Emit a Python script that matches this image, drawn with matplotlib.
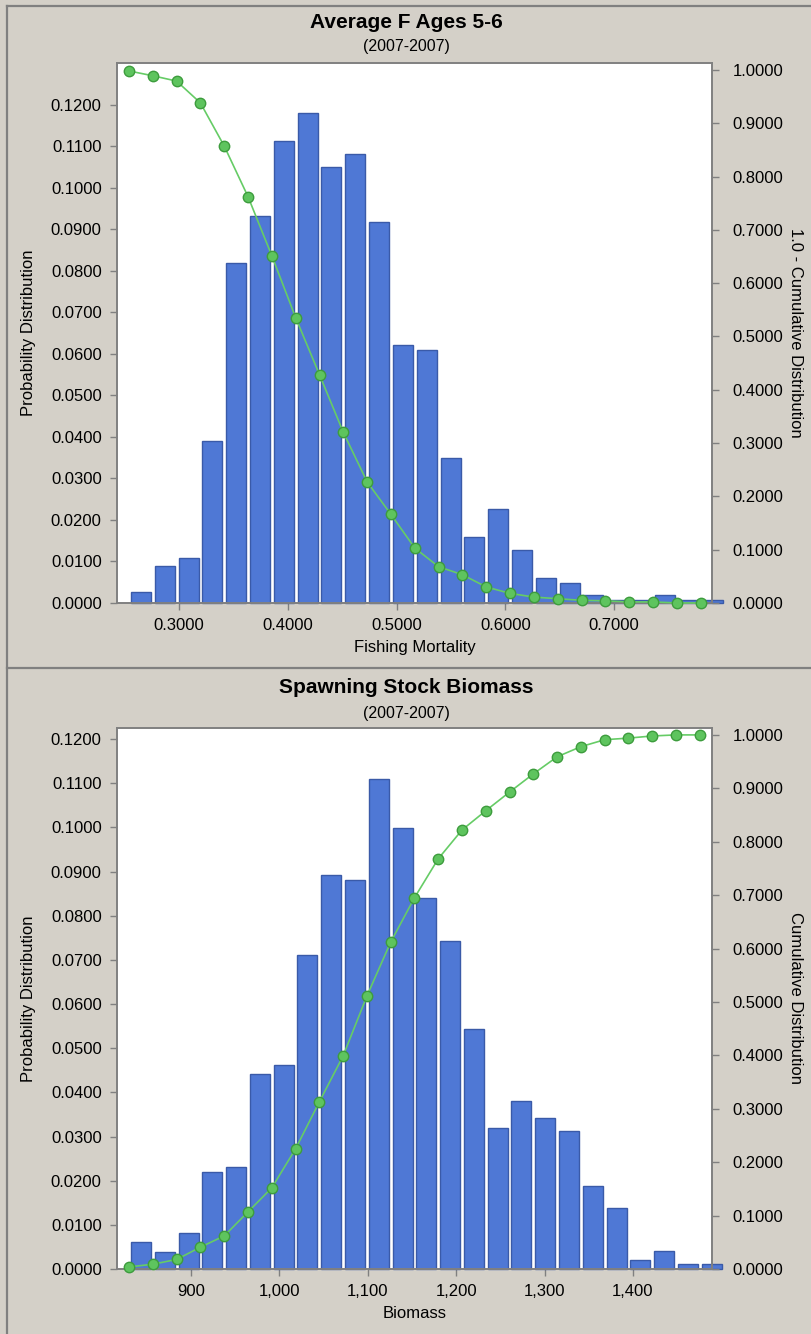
import matplotlib
matplotlib.use("Agg")
import numpy as np
from matplotlib import pyplot as plt
from matplotlib.lines import Line2D
from matplotlib.ticker import FuncFormatter, MultipleLocator

plt.rcParams['font.family'] = ['Liberation Sans', 'DejaVu Sans']

# --- Average F Ages 5-6 ---
f_bin_left = [0.2540, 0.2759, 0.2978, 0.3197, 0.3416, 0.3635, 0.3854, 0.4073, 0.4292,
              0.4511, 0.4730, 0.4949, 0.5168, 0.5387, 0.5606, 0.5825, 0.6044, 0.6263,
              0.6482, 0.6701, 0.6920, 0.7139, 0.7358, 0.7577, 0.7796]
f_bin_width = 0.0219
f_prob = [0.0027, 0.0089, 0.0109, 0.0391, 0.0819, 0.0933, 0.1112, 0.1181, 0.1050,
          0.1082, 0.0919, 0.0622, 0.0609, 0.0350, 0.0158, 0.0227, 0.0128, 0.0059,
          0.0047, 0.0019, 0.0008, 0.0008, 0.0019, 0.0008, 0.0008]
f_cum = [0.998, 0.989, 0.979, 0.938, 0.857, 0.762, 0.651, 0.535, 0.428, 0.320,
         0.227, 0.166, 0.103, 0.068, 0.053, 0.030, 0.018, 0.011, 0.008, 0.005,
         0.004, 0.002, 0.002, 0.000, 0.000]

# --- Spawning Stock Biomass ---
b_bin_left = [830.0, 856.9, 883.8, 910.7, 937.6, 964.5, 991.4, 1018.3, 1045.2,
              1072.1, 1099.0, 1125.9, 1152.8, 1179.7, 1206.6, 1233.5, 1260.4, 1287.3,
              1314.2, 1341.1, 1368.0, 1394.9, 1421.8, 1448.7, 1475.6]
b_bin_width = 26.9
b_prob = [0.0062, 0.0039, 0.0081, 0.0219, 0.0230, 0.0442, 0.0462, 0.0711, 0.0892,
          0.0880, 0.1110, 0.0999, 0.0840, 0.0743, 0.0543, 0.0319, 0.0381, 0.0342,
          0.0312, 0.0188, 0.0139, 0.0020, 0.0040, 0.0012, 0.0012]
b_cum = [0.004, 0.009, 0.018, 0.041, 0.062, 0.107, 0.152, 0.225, 0.313, 0.399,
         0.511, 0.612, 0.695, 0.768, 0.822, 0.858, 0.893, 0.927, 0.959, 0.978,
         0.991, 0.994, 0.998, 1.000, 1.000]

BG = '#d4d0c8'
GRAY = '#808080'
BAR_FACE = '#4f78d5'
BAR_EDGE = '#3a5aa8'
PT_FACE = '#5ec45e'
PT_EDGE = '#3d9c3d'
LINE = '#66cc66'
FS = 12
fmt4 = FuncFormatter(lambda v, p: f"{v:.4f}")


def style_axis(ax, pad):
    for s in ax.spines.values():
        s.set_color(GRAY)
        s.set_linewidth(1.2)
    ax.tick_params(axis='y', colors=GRAY, labelcolor='black', labelsize=FS,
                   length=5, width=1, pad=pad)
    ax.tick_params(axis='x', colors=GRAY, labelcolor='black', labelsize=FS,
                   length=5, width=1, pad=6)


def draw_panel(fig, rect, bin_left, bw, prob, cum, xlim, ylim, xticks, xfmt,
               xlabel, rlabel):
    ax = fig.add_axes(rect)
    left = np.array(bin_left)
    ax.bar(left + bw / 2, prob, width=bw * 0.84, color=BAR_FACE,
           edgecolor=BAR_EDGE, linewidth=1, clip_on=False, zorder=2)
    ax.set_xlim(*xlim)
    ax.set_ylim(0, ylim)
    ax.set_yticks(np.arange(0, 0.1205, 0.01))
    ax.yaxis.set_major_formatter(fmt4)
    ax.set_xticks(xticks)
    ax.xaxis.set_major_formatter(FuncFormatter(xfmt))
    ax.set_xlabel(xlabel, fontsize=FS, labelpad=5)
    ax.set_ylabel('Probability Distribution', fontsize=FS, labelpad=11)
    style_axis(ax, 6)

    ax2 = ax.twinx()
    ax2.plot(left, cum, '-', color=LINE, linewidth=1.2, marker='o',
             markersize=7.5, markerfacecolor=PT_FACE, markeredgecolor=PT_EDGE,
             markeredgewidth=1, clip_on=False, zorder=3)
    ax2.set_ylim(0, 1.013)
    ax2.yaxis.set_major_locator(MultipleLocator(0.1))
    ax2.yaxis.set_major_formatter(fmt4)
    ax2.set_ylabel(rlabel, fontsize=FS, rotation=-90, labelpad=14)
    style_axis(ax2, 10)
    return ax, ax2


fig = plt.figure(figsize=(8.12, 13.34), dpi=100)
fig.patch.set_facecolor(BG)

draw_panel(fig, [0.1441, 0.5480, 0.7327, 0.4048], f_bin_left, f_bin_width,
           f_prob, f_cum, (0.243, 0.790), 0.1301,
           [0.3, 0.4, 0.5, 0.6, 0.7], lambda v, p: f"{v:.4f}",
           'Fishing Mortality', '1.0 - Cumulative Distribution')

draw_panel(fig, [0.1441, 0.0487, 0.7327, 0.4056], b_bin_left, b_bin_width,
           b_prob, b_cum, (816.3, 1489.4), 0.1225,
           [900, 1000, 1100, 1200, 1300, 1400], lambda v, p: f"{v:,.0f}",
           'Biomass', 'Cumulative Distribution')

fig.text(0.5, 0.9835, 'Average F Ages 5-6', ha='center', va='center',
         fontsize=15, fontweight='bold')
fig.text(0.5, 0.9650, '(2007-2007)', ha='center', va='center', fontsize=11.5)
fig.text(0.5, 0.4850, 'Spawning Stock Biomass', ha='center', va='center',
         fontsize=15, fontweight='bold')
fig.text(0.5, 0.4650, '(2007-2007)', ha='center', va='center', fontsize=11.5)

# panel frame lines
fig.add_artist(Line2D([0.0086, 0.0086], [0, 0.9955], color=GRAY, linewidth=1.6))
fig.add_artist(Line2D([0.0086, 1], [0.9955, 0.9955], color=GRAY, linewidth=1.6))
fig.add_artist(Line2D([0.0086, 1], [0.4993, 0.4993], color=GRAY, linewidth=1.6))

fig.savefig('out.png', dpi=100, facecolor=BG)
